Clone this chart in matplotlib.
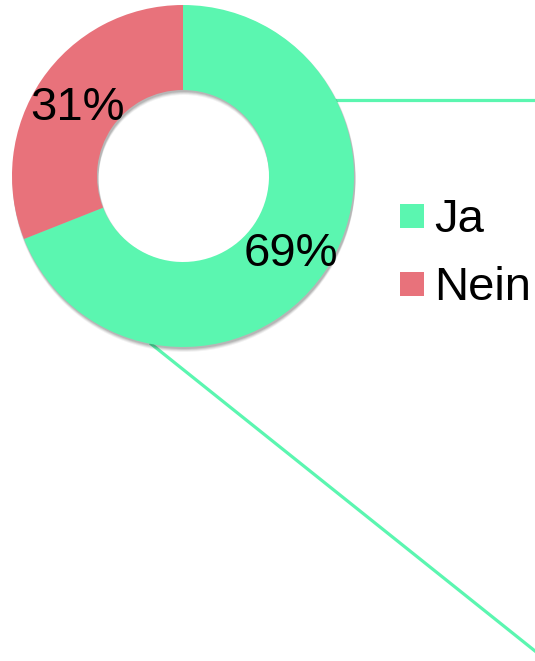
import matplotlib.pyplot as plt
from matplotlib.patches import Wedge, Rectangle

# data
labels = ["Ja", "Nein"]
values = [69, 31]
colors = ["#5bf6b0", "#e8727b"]

W, H = 535, 661
font = "Liberation Sans"
fs = 34  # pt, ~47 px at dpi 100


def px(y):
    # pixel row (top down) -> data y (bottom up)
    return H - y


fig = plt.figure(figsize=(W / 100, H / 100), dpi=100)
ax = fig.add_axes([0, 0, 1, 1])

cx, cy = 183, px(176)
r_out, r_in = 171, 86

# connector lines behind the donut
ax.plot([300, W], [px(100), px(100)], color=colors[0], lw=2.3,
        solid_capstyle="butt", zorder=1)
ax.plot([150, 540], [px(343), px(655)], color=colors[0], lw=2.3,
        solid_capstyle="butt", zorder=1)

# soft shadow under the ring
for k, a in [(4.5, 0.05), (3.5, 0.07), (2.5, 0.09), (1.5, 0.1)]:
    ax.add_patch(Wedge((cx + 1, cy - k), r_out + 0.5, 0, 360,
                       width=r_out - r_in + 1, facecolor="black",
                       edgecolor="none", alpha=a, zorder=2))

wedges, texts, autotexts = ax.pie(
    values, colors=colors, startangle=90, counterclock=False,
    center=(cx, cy), radius=r_out, frame=True,
    wedgeprops=dict(width=r_out - r_in, edgecolor="none", zorder=3),
    autopct=lambda p: "%d%%" % round(p), pctdistance=0.755,
    textprops=dict(fontsize=fs, family=font, color="black", zorder=4))
for w in wedges:
    w.set_zorder(3)
for t in autotexts:
    t.set_zorder(4)
    x, y = t.get_position()
    t.set_position((x + 1, y - 5))

# legend
for i, (lab, col) in enumerate(zip(labels, colors)):
    top = 204 + i * 68
    ax.add_patch(Rectangle((400, px(top + 24)), 24, 24, facecolor=col,
                           edgecolor="none", zorder=3))
    ax.text(434, px(232 + i * 68), lab, fontsize=fs, family=font,
            va="baseline", ha="left", color="black", zorder=4)

ax.set_xlim(0, W)
ax.set_ylim(0, H)
ax.set_aspect("equal")
ax.axis("off")

fig.savefig("out.png", dpi=100)
